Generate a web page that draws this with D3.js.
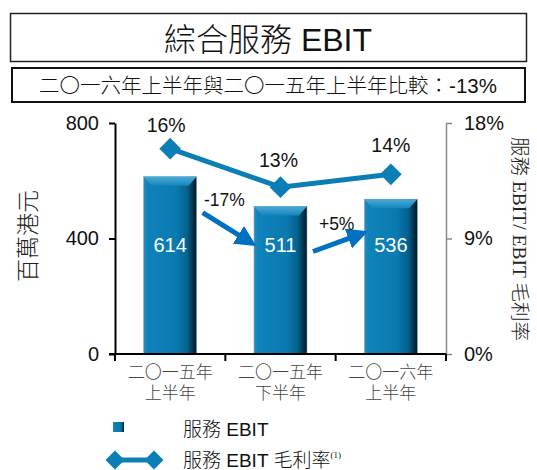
<!DOCTYPE html>
<html>
<head>
<meta charset="utf-8">
<script src="https://cdn.jsdelivr.net/npm/d3@7"></script>
<style>
  body { margin: 0; background: #fff; }
</style>
</head>
<body>
<div id="chart"></div>
<script>
const categories = [["二〇一五年", "上半年"], ["二〇一五年", "下半年"], ["二〇一六年", "上半年"]];
const ebitValues = [614, 511, 536];
const marginValues = [16, 13, 14];
const changeLabels = ["-17%", "+5%"];
const arrowLevels = [[490, 405], [355, 405]];
const leftTicks = [0, 400, 800];
const rightTicks = [0, 9, 18];

const W = 537, H = 470;
const PLOT = { left: 115, right: 446, top: 123, bottom: 354 };
const SANS = '"Liberation Sans", Arial, "Noto Sans CJK TC", sans-serif';
const SERIF = '"Liberation Serif", "Times New Roman", "Noto Sans CJK TC", serif';

const svg = d3.select("#chart").append("svg")
  .attr("width", W)
  .attr("height", H)
  .style("font-family", SANS);

const defs = svg.append("defs");
const barGrad = defs.append("linearGradient").attr("id", "barGrad")
  .attr("x1", "0%").attr("x2", "100%").attr("y1", "0%").attr("y2", "0%");
[["0%", "#2a8cbc"], ["8%", "#0f82ba"], ["60%", "#0a7bb1"], ["82%", "#05628e"], ["100%", "#011520"]]
  .forEach(s => barGrad.append("stop").attr("offset", s[0]).attr("stop-color", s[1]));
const topGrad = defs.append("linearGradient").attr("id", "topGrad")
  .attr("x1", "0%").attr("x2", "0%").attr("y1", "0%").attr("y2", "100%");
[["0%", "#4aa9d6"], ["100%", "#1586bd"]]
  .forEach(s => topGrad.append("stop").attr("offset", s[0]).attr("stop-color", s[1]));
defs.append("marker").attr("id", "arrowHead")
  .attr("viewBox", "0 0 10 10").attr("refX", 2).attr("refY", 5)
  .attr("markerWidth", 4.2).attr("markerHeight", 4.2)
  .attr("orient", "auto")
  .append("path").attr("d", "M0,0 L10,5 L0,10 z").attr("fill", "#0070c0");

// title boxes
svg.append("rect").attr("x", 10.5).attr("y", 13.5).attr("width", 516).attr("height", 48)
  .attr("fill", "none").attr("stroke", "#222").attr("stroke-width", 1.5);
svg.append("text").attr("x", 268).attr("y", 51)
  .attr("text-anchor", "middle").attr("font-size", 32).attr("fill", "#111")
  .style("font-weight", 300)
  .text("綜合服務 EBIT");
svg.append("rect").attr("x", 12).attr("y", 68).attr("width", 513).attr("height", 34)
  .attr("fill", "none").attr("stroke", "#111").attr("stroke-width", 2);
svg.append("text").attr("x", 268).attr("y", 93)
  .attr("text-anchor", "middle").attr("font-size", 20.5).attr("fill", "#111")
  .style("font-weight", 300)
  .text("二〇一六年上半年與二〇一五年上半年比較：-13%");

// scales
const x = d3.scaleBand().domain(d3.range(categories.length))
  .range([PLOT.left, PLOT.right]).paddingInner(0).paddingOuter(0);
const yL = d3.scaleLinear().domain([0, 800]).range([PLOT.bottom, PLOT.top]);
const yR = d3.scaleLinear().domain([0, 18]).range([PLOT.bottom, PLOT.top]);
const barW = x.bandwidth() * 0.48;
const cx = i => x(i) + x.bandwidth() / 2;

// bars
const bars = svg.append("g");
ebitValues.forEach((v, i) => {
  const x0 = cx(i) - barW / 2, y0 = yL(v);
  bars.append("rect").attr("x", x0).attr("y", y0)
    .attr("width", barW).attr("height", yL(0) - y0)
    .attr("fill", "url(#barGrad)").attr("stroke", "#7fa9bf").attr("stroke-width", 0.6);
  bars.append("path")
    .attr("d", `M${x0},${y0} L${x0 + barW},${y0} L${x0 + barW - 8},${y0 + 9} L${x0 + 8},${y0 + 9} Z`)
    .attr("fill", "url(#topGrad)");
  bars.append("text").attr("x", cx(i)).attr("y", 252)
    .attr("text-anchor", "middle").attr("font-size", 20).attr("fill", "#fff")
    .text(v);
});

// left axis
const leftAxis = svg.append("g").attr("transform", `translate(${PLOT.left},0)`)
  .call(d3.axisLeft(yL).tickValues(leftTicks).tickSize(6).tickSizeOuter(0));
leftAxis.attr("font-family", null);
leftAxis.select(".domain").attr("stroke", "#000").attr("stroke-width", 2);
leftAxis.selectAll(".tick line").attr("stroke", "#000").attr("stroke-width", 2);
leftAxis.selectAll(".tick text").attr("font-size", 20).attr("fill", "#111").attr("x", -16);

// right axis
const rightAxis = svg.append("g").attr("transform", `translate(${PLOT.right},0)`)
  .call(d3.axisRight(yR).tickValues(rightTicks).tickSize(6).tickSizeOuter(0)
    .tickFormat(d => d + "%"));
rightAxis.attr("font-family", null);
rightAxis.select(".domain").attr("stroke", "#888").attr("stroke-width", 1.5);
rightAxis.selectAll(".tick line").attr("stroke", "#888").attr("stroke-width", 1.5);
rightAxis.selectAll(".tick text").attr("font-size", 20).attr("fill", "#111").attr("x", 18);

// x axis
const xAxis = svg.append("g").attr("transform", `translate(0,${PLOT.bottom})`);
xAxis.append("line").attr("x1", PLOT.left - 6).attr("x2", PLOT.right)
  .attr("stroke", "#000").attr("stroke-width", 2);
d3.range(categories.length + 1).forEach(i => {
  const tx = i < categories.length ? x(i) : PLOT.right;
  xAxis.append("line").attr("x1", tx).attr("x2", tx).attr("y1", 0).attr("y2", 7)
    .attr("stroke", "#000").attr("stroke-width", 2);
});
categories.forEach((c, i) => {
  const t = xAxis.append("text").attr("text-anchor", "middle")
    .attr("font-size", 17).attr("fill", "#444").style("font-weight", 300);
  t.append("tspan").attr("x", cx(i)).attr("y", 24).text(c[0]);
  t.append("tspan").attr("x", cx(i)).attr("y", 45).text(c[1]);
});

// margin line
const line = d3.line().x((d, i) => cx(i)).y(d => yR(d));
svg.append("path").datum(marginValues).attr("d", line)
  .attr("fill", "none").attr("stroke", "#0b7fb5").attr("stroke-width", 5);
const diamond = d3.symbol().type(d3.symbolDiamond2).size(300);
marginValues.forEach((v, i) => {
  svg.append("path").attr("d", diamond)
    .attr("transform", `translate(${cx(i)},${yR(v)})`)
    .attr("fill", "#0b7fb5");
});
const labelDx = [-4, -2, 0];
const labelDy = [-17, -20, -22];
marginValues.forEach((v, i) => {
  svg.append("text").attr("x", cx(i) + labelDx[i]).attr("y", yR(v) + labelDy[i])
    .attr("text-anchor", "middle").attr("font-size", 19.5).attr("fill", "#111")
    .text(v + "%");
});

// change arrows
changeLabels.forEach((lab, i) => {
  const xs = cx(i) + barW / 2 + 6;
  const xe = cx(i + 1) - barW / 2 - 12;
  const ys = yL(arrowLevels[i][0]), ye = yL(arrowLevels[i][1]);
  svg.append("line").attr("x1", xs).attr("y1", ys).attr("x2", xe).attr("y2", ye)
    .attr("stroke", "#0070c0").attr("stroke-width", 5)
    .attr("marker-end", "url(#arrowHead)");
  svg.append("text").attr("x", (xs + xe) / 2 + (i === 0 ? 2 : 4))
    .attr("y", Math.min(ys, ye) - 7)
    .attr("text-anchor", "middle").attr("font-size", 17.5).attr("fill", "#111")
    .text(lab);
});

// axis titles
svg.append("text")
  .attr("transform", "translate(36,236) rotate(-90)")
  .attr("text-anchor", "middle").attr("font-size", 23).attr("fill", "#222")
  .style("font-weight", 300)
  .text("百萬港元");
svg.append("text")
  .attr("transform", "translate(513,239) rotate(90)")
  .attr("text-anchor", "middle").attr("font-size", 19.5).attr("fill", "#222")
  .style("font-family", SERIF).style("font-weight", 300)
  .text("服務 EBIT/ EBIT 毛利率");

// legend
const legend = svg.append("g");
legend.append("rect").attr("x", 113).attr("y", 422).attr("width", 11).attr("height", 10)
  .attr("fill", "url(#barGrad)");
legend.append("text").attr("x", 183).attr("y", 436)
  .attr("font-size", 19).attr("fill", "#111").style("font-weight", 300).text("服務 EBIT");
legend.append("line").attr("x1", 115).attr("x2", 154).attr("y1", 460).attr("y2", 460)
  .attr("stroke", "#0b7fb5").attr("stroke-width", 5);
[115, 154].forEach(lx => legend.append("path").attr("d", d3.symbol().type(d3.symbolDiamond2).size(230))
  .attr("transform", `translate(${lx},460)`).attr("fill", "#0b7fb5"));
const lt = legend.append("text").attr("x", 183).attr("y", 467)
  .attr("font-size", 19).attr("fill", "#111").style("font-weight", 300).text("服務 EBIT 毛利率");
lt.append("tspan").attr("dy", -9).attr("font-size", 9)
  .style("font-family", SERIF).text("(1)");
</script>
</body>
</html>
